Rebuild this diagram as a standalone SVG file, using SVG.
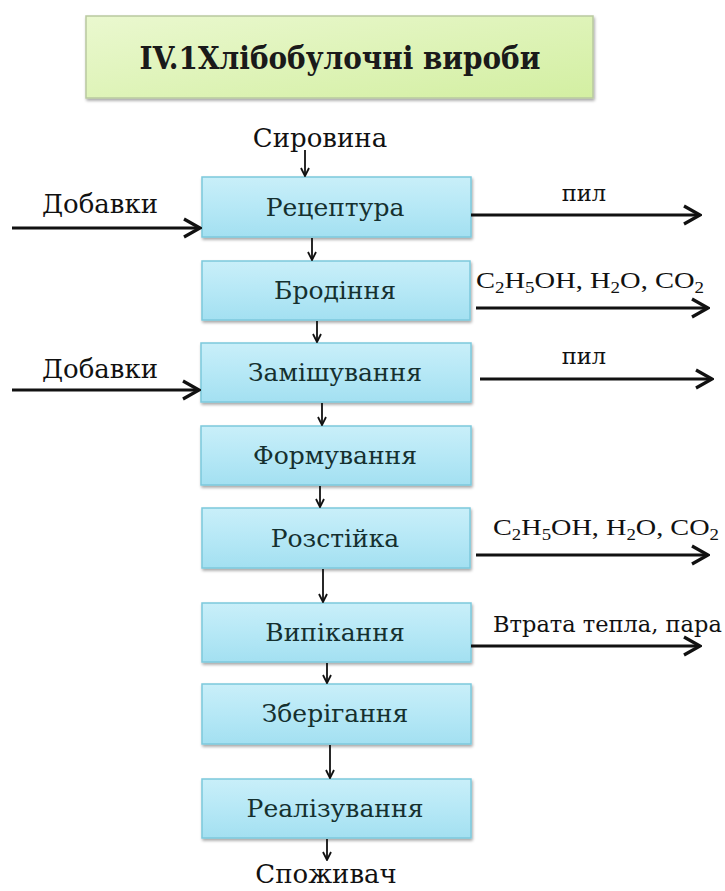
<svg xmlns="http://www.w3.org/2000/svg" width="725" height="891" viewBox="0 0 725 891">
<defs>
<linearGradient id="gBox" x1="0" y1="0" x2="0" y2="1">
<stop offset="0" stop-color="#c9eff9"/>
<stop offset="0.5" stop-color="#b6e8f6"/>
<stop offset="1" stop-color="#a3e0f1"/>
</linearGradient>
<linearGradient id="gTitle" x1="0" y1="0" x2="1" y2="1">
<stop offset="0" stop-color="#eaf8cf"/>
<stop offset="1" stop-color="#d3efa2"/>
</linearGradient>
<filter id="sh" x="-5%" y="-10%" width="110%" height="130%">
<feGaussianBlur in="SourceAlpha" stdDeviation="1.5"/>
<feOffset dx="1" dy="2" result="o"/>
<feComponentTransfer><feFuncA type="linear" slope="0.35"/></feComponentTransfer>
<feMerge><feMergeNode/><feMergeNode in="SourceGraphic"/></feMerge>
</filter>
<marker id="ah" markerUnits="userSpaceOnUse" viewBox="0 0 20 22" markerWidth="20" markerHeight="22" refX="18" refY="11" orient="auto">
<path d="M2,2 L18,11 L2,20" fill="none" stroke="#111" stroke-width="3.2" stroke-linejoin="miter"/>
</marker>
<marker id="av" markerUnits="userSpaceOnUse" viewBox="0 0 10 10" markerWidth="10" markerHeight="10" refX="9" refY="5" orient="auto">
<path d="M1,1 L9,5 L1,9" fill="none" stroke="#111" stroke-width="1.8"/>
</marker>
</defs>
<style>
text{font-family:'DejaVu Serif',serif}
.tt{font-family:'DejaVu Serif Condensed','DejaVu Serif',serif}
.chem{font-family:'Liberation Serif','DejaVu Serif',serif}
.box{fill:url(#gBox);stroke:#7cc9dc;stroke-width:1.5;filter:url(#sh)}
.bt{font-size:25px;fill:#15302f;text-anchor:middle}
.lbl{font-size:26px;fill:#111}
.sm{font-size:22.5px;fill:#111}
.h{stroke:#111;stroke-width:3.2;fill:none;marker-end:url(#ah)}
.v{stroke:#111;stroke-width:1.8;fill:none;marker-end:url(#av)}
</style>
<rect width="725" height="891" fill="#fff"/>
<g id="title">
<rect x="86" y="16" width="507" height="82" fill="url(#gTitle)" stroke="#b9c9a0" stroke-width="1.5" filter="url(#sh)"/>
<text class="tt" x="340" y="69" font-size="31" font-weight="bold" fill="#1a1a1a" text-anchor="middle">IV.1Хлібобулочні вироби</text>
</g>
<g id="n1"><rect class="box" x="202" y="177" width="269" height="60"/><text class="bt" x="335" y="216">Рецептура</text></g>
<g id="n2"><rect class="box" x="202" y="261" width="268" height="59"/><text class="bt" x="335" y="299">Бродіння</text></g>
<g id="n3"><rect class="box" x="201" y="343" width="270" height="59"/><text class="bt" x="335" y="381">Замішування</text></g>
<g id="n4"><rect class="box" x="201" y="426" width="270" height="59"/><text class="bt" x="335" y="464">Формування</text></g>
<g id="n5"><rect class="box" x="202" y="508" width="268" height="60"/><text class="bt" x="335" y="547">Розстійка</text></g>
<g id="n6"><rect class="box" x="202" y="603" width="269" height="59"/><text class="bt" x="335" y="641">Випікання</text></g>
<g id="n7"><rect class="box" x="202" y="684" width="269" height="60"/><text class="bt" x="335" y="722">Зберігання</text></g>
<g id="n8"><rect class="box" x="202" y="779" width="269" height="59"/><text class="bt" x="335" y="817">Реалізування</text></g>
<g id="labels">
<text class="lbl" x="320" y="147" text-anchor="middle">Сировина</text>
<text class="lbl" x="100" y="213" text-anchor="middle">Добавки</text>
<text class="lbl" x="100" y="378" text-anchor="middle">Добавки</text>
<text class="sm" x="584" y="201" text-anchor="middle">пил</text>
<text class="sm" x="584" y="364" text-anchor="middle">пил</text>
<text class="chem" x="476" y="288" font-size="24" fill="#111" textLength="228" lengthAdjust="spacingAndGlyphs">C<tspan font-size="16" dy="5">2</tspan><tspan dy="-5">H</tspan><tspan font-size="16" dy="5">5</tspan><tspan dy="-5">OH, H</tspan><tspan font-size="16" dy="5">2</tspan><tspan dy="-5">O, CO</tspan><tspan font-size="16" dy="5">2</tspan></text>
<text class="chem" x="493" y="535" font-size="24" fill="#111" textLength="226" lengthAdjust="spacingAndGlyphs">C<tspan font-size="16" dy="5">2</tspan><tspan dy="-5">H</tspan><tspan font-size="16" dy="5">5</tspan><tspan dy="-5">OH, H</tspan><tspan font-size="16" dy="5">2</tspan><tspan dy="-5">O, CO</tspan><tspan font-size="16" dy="5">2</tspan></text>
<text class="sm" x="493" y="632">Втрата тепла, пара</text>
<text class="lbl" x="326" y="883" text-anchor="middle" font-size="25">Споживач</text>
</g>
<g id="connectors">
<line class="h" x1="12" y1="228" x2="200" y2="228"/>
<line class="h" x1="12" y1="390" x2="199" y2="390"/>
<line class="h" x1="471" y1="215" x2="700" y2="215"/>
<line class="h" x1="476" y1="308" x2="708" y2="308"/>
<line class="h" x1="480" y1="379" x2="712" y2="379"/>
<line class="h" x1="476" y1="555" x2="708" y2="555"/>
<line class="h" x1="471" y1="646" x2="700" y2="646"/>
<line class="v" x1="305" y1="150" x2="305" y2="176"/>
<line class="v" x1="312" y1="238" x2="312" y2="260"/>
<line class="v" x1="317" y1="321" x2="317" y2="342"/>
<line class="v" x1="322" y1="403" x2="322" y2="425"/>
<line class="v" x1="320" y1="486" x2="320" y2="507"/>
<line class="v" x1="323" y1="569" x2="323" y2="602"/>
<line class="v" x1="327" y1="663" x2="327" y2="683"/>
<line class="v" x1="330" y1="745" x2="330" y2="778"/>
<line class="v" x1="327" y1="839" x2="327" y2="860"/>
</g>
</svg>
